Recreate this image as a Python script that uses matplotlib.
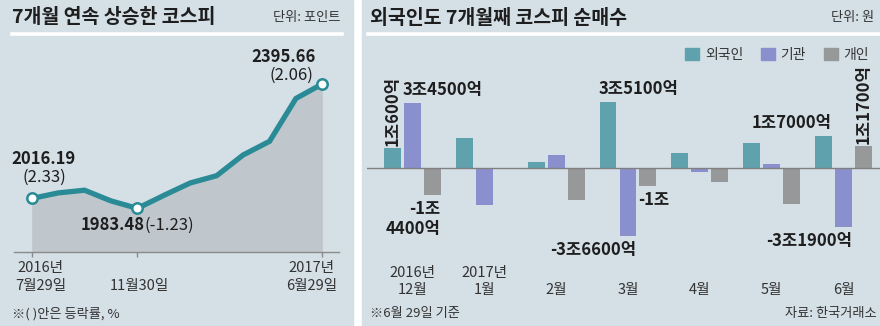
import matplotlib
matplotlib.use("Agg")
import matplotlib.pyplot as plt
from matplotlib.patches import Rectangle, Patch
from matplotlib.lines import Line2D

plt.rcParams['font.family'] = ['Noto Sans CJK KR', 'DejaVu Sans']

# 코스피 월말 종가 (2016.7 ~ 2017.6)
kospi_close = [2016.19, 2034.65, 2043.63, 2008.19, 1983.48, 2026.46,
               2067.57, 2091.64, 2160.23, 2205.44, 2347.38, 2395.66]
kospi_change = {0: "(2.33)", 4: "(-1.23)", 11: "(2.06)"}
kospi_ticks = [0, 4, 11]
kospi_tick_top = ["2016년", "", "2017년"]
kospi_tick_bottom = ["7월29일", "11월30일", "6월29일"]

# 투자자별 코스피 순매수 (억원)
months = ["12월", "1월", "2월", "3월", "4월", "5월", "6월"]
month_years = ["2016년", "2017년", "", "", "", "", ""]
foreign = [10600, 16000, 2900, 35100, 7700, 13000, 17000]
institution = [34500, -20000, 6600, -36600, -2500, 1800, -31900]
individual = [-14400, 0, -17300, -10000, -7800, -19600, 11700]
investor_names = ["외국인", "기관", "개인"]

BG = "#d4dfe6"
FILL = "#bfc6cc"
LINE = "#2a8b96"
BAR_COLORS = ["#5fa2ad", "#8a8fcd", "#97989a"]
TXT = "#1e1e1e"
SUB = "#333333"

W, H = 880, 326
fig = plt.figure(figsize=(W / 100, H / 100), dpi=100, facecolor="white")


def box(l, t, r, b):
    return [l / W, 1 - b / H, (r - l) / W, (b - t) / H]


def px(x, y):
    return x / W, 1 - y / H


# 패널 배경과 제목 밑줄
fig.patches.append(Rectangle((0, 0), 353 / W, 1, transform=fig.transFigure,
                             color=BG, zorder=-10))
fig.patches.append(Rectangle((362 / W, 0), 1 - 362 / W, 1, transform=fig.transFigure,
                             color=BG, zorder=-10))
for x0, x1 in [(12, 342), (368, 880)]:
    fig.lines.append(Line2D([x0 / W, x1 / W], [1 - 34 / H] * 2, transform=fig.transFigure,
                            color="white", lw=2.6, zorder=-5))

fig.text(*px(12, 17), "7개월 연속 상승한 코스피", fontsize=14, fontweight="bold",
         color=TXT, va="center", ha="left")
fig.text(*px(340, 17), "단위: 포인트", fontsize=9.5, color=SUB, va="center", ha="right")
fig.text(*px(370, 18), "외국인도 7개월째 코스피 순매수", fontsize=14, fontweight="bold",
         color=TXT, va="center", ha="left")
fig.text(*px(874, 18), "단위: 원", fontsize=9.5, color=SUB, va="center", ha="right")
fig.text(*px(12, 314), "※( )안은 등락률, %", fontsize=9.5, color=SUB, va="center", ha="left")
fig.text(*px(370, 314), "※6월 29일 기준", fontsize=9.5, color=SUB, va="center", ha="left")
fig.text(*px(877, 314), "자료: 한국거래소", fontsize=9.5, color=SUB, va="center", ha="right")

# ---- 왼쪽: 코스피 추이 ----
ax1 = fig.add_axes(box(14, 40, 339, 251.7))
ax1.set_facecolor("none")
x = list(range(len(kospi_close)))
ax1.set_xlim(-0.67, 11.63)
ax1.set_ylim(1840, 2541)
ax1.fill_between(x, kospi_close, ax1.get_ylim()[0], color=FILL, lw=0, zorder=1)
ax1.plot(x, kospi_close, color=LINE, lw=3.8, solid_joinstyle="miter", zorder=2)
ax1.plot(kospi_ticks, [kospi_close[i] for i in kospi_ticks], "o", ms=7.5,
         mfc="white", mec=LINE, mew=1.8, zorder=3)
for s in ["top", "left", "right"]:
    ax1.spines[s].set_visible(False)
ax1.spines["bottom"].set_color("#8a8a8a")
ax1.spines["bottom"].set_linewidth(1)
ax1.set_yticks([])
ax1.set_xticks(kospi_ticks)
ax1.set_xticklabels([])
ax1.tick_params(axis="x", length=3.5, color="#8a8a8a", width=1)

lab = dict(textcoords="offset pixels", fontsize=12, color=TXT, va="center")
ax1.annotate(f"{kospi_close[0]:.2f}", (0, kospi_close[0]), xytext=(12, 39),
             ha="center", fontweight="bold", **lab)
ax1.annotate(kospi_change[0], (0, kospi_close[0]), xytext=(13, 21), ha="center", **lab)
ax1.annotate(f"{kospi_close[11]:.2f}", (11, kospi_close[11]), xytext=(-7, 27),
             ha="right", fontweight="bold", **lab)
ax1.annotate(kospi_change[11], (11, kospi_close[11]), xytext=(-9, 9), ha="right", **lab)
low = ax1.annotate(f"{kospi_close[4]:.2f}", (4, kospi_close[4]), xytext=(7, -17),
                   ha="right", fontweight="bold", **lab)
ax1.annotate(kospi_change[4], xy=(1, 0.5), xycoords=low, ha="left", va="center",
             fontsize=12, color=TXT)

tick_dx = [9, 2, -11]
for i, t, top, bot in zip(range(3), kospi_ticks, kospi_tick_top, kospi_tick_bottom):
    ax1.annotate(top, (t, 0), xycoords=("data", "figure pixels"), xytext=(tick_dx[i], H - 268),
                 textcoords=("offset pixels", "figure pixels"), ha="center", va="center",
                 fontsize=10.5, color=SUB)
    ax1.annotate(bot, (t, 0), xycoords=("data", "figure pixels"), xytext=(tick_dx[i], H - 286),
                 textcoords=("offset pixels", "figure pixels"), ha="center", va="center",
                 fontsize=10.5, color=SUB)

# ---- 오른쪽: 투자자별 순매수 ----
ax2 = fig.add_axes(box(367, 40, 880, 255))
ax2.set_facecolor("none")
ax2.set_xlim(-0.632, 6.507)
ax2.set_ylim(-46600, 68200)
for s in ax2.spines.values():
    s.set_visible(False)
ax2.set_xticks([])
ax2.set_yticks([])
ax2.axhline(0, color="#808080", lw=1, zorder=3)

step, bw = 0.278, 0.236
series = [foreign, institution, individual]
for k, vals in enumerate(series):
    xs = [i + (k - 1) * step for i in range(len(months))]
    ax2.bar(xs, vals, width=bw, color=BAR_COLORS[k], zorder=2)


def fmt(v, br=False):
    sign = "-" if v < 0 else ""
    jo, eok = divmod(abs(v), 10000)
    s = f"{sign}{jo}조"
    if eok:
        s += ("\n" if br else "") + f"{eok}억"
    return s


# (계열, 월, 위치)
bar_labels = [(0, 0, "rot"), (1, 0, "left"), (2, 0, "right_br"), (0, 3, "left"),
              (1, 3, "right"), (2, 3, "left"), (0, 6, "right"), (1, 6, "right"),
              (2, 6, "rot")]
for k, i, mode in bar_labels:
    v = series[k][i]
    xc = i + (k - 1) * step
    up = v > 0
    dy = 4 if up else -5
    va = "bottom" if up else "top"
    kw = dict(textcoords="offset pixels", fontsize=12, fontweight="bold", color=TXT)
    if mode == "rot":
        ax2.annotate(fmt(v), (xc, v), xytext=(0, 2), ha="center", va="bottom",
                     rotation=90, **kw)
    elif mode == "left":
        ax2.annotate(fmt(v), (xc - bw / 2, v), xytext=(-1, dy), ha="left", va=va, **kw)
    elif mode == "right":
        ax2.annotate(fmt(v), (xc + bw / 2, v), xytext=(0, dy), ha="right", va=va, **kw)
    else:
        ax2.annotate(fmt(v, br=True), (xc + bw / 2, v), xytext=(0, dy), ha="right", va=va,
                     multialignment="right", **kw)

for i, (yr, m) in enumerate(zip(month_years, months)):
    if yr:
        ax2.annotate(yr, (i, 0), xycoords=("data", "figure pixels"), xytext=(i, H - 273),
                     textcoords=("data", "figure pixels"), ha="center", va="center",
                     fontsize=10.5, color=SUB)
    ax2.annotate(m, (i, 0), xycoords=("data", "figure pixels"), xytext=(i, H - 290),
                 textcoords=("data", "figure pixels"), ha="center", va="center",
                 fontsize=10.5, color=SUB)

handles = [Patch(color=c, label=n) for c, n in zip(BAR_COLORS, investor_names)]
ax2.legend(handles=handles, ncol=3, loc="upper right", frameon=False,
           bbox_to_anchor=(876 / W, 1 - 41 / H), bbox_transform=fig.transFigure,
           borderpad=0, handlelength=1.0, handleheight=0.95, handletextpad=0.4,
           columnspacing=1.3, fontsize=10, labelcolor=SUB)

fig.savefig("out.png", dpi=100, facecolor="white")
